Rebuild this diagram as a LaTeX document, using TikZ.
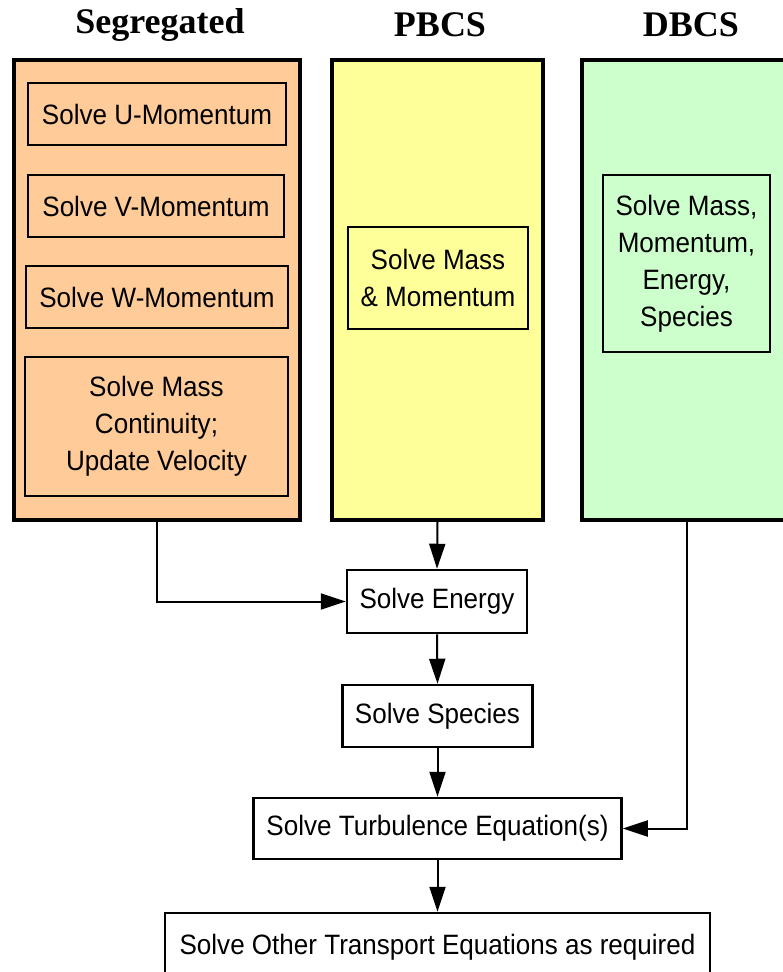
\documentclass[tikz,border=0pt]{standalone}
\usepackage{fontspec}
\setmainfont{Liberation Serif}
\newfontfamily\lab[FakeStretch=0.93]{Liberation Sans}
\usetikzlibrary{arrows.meta}
\definecolor{segfill}{HTML}{FFCC99}
\definecolor{pbfill}{HTML}{FFFF99}
\definecolor{dbfill}{HTML}{CCFFCC}
\tikzset{
  title/.style={font=\fontsize{36}{40}\selectfont\bfseries},
  outer/.style={draw, line width=4pt, inner sep=0pt},
  inbox/.style={draw, line width=2.5pt, inner sep=0pt, align=center,
    font=\lab\fontsize{28}{37}\selectfont},
  flow/.style={inbox, fill=white},
  conn/.style={line width=2pt, -{Triangle[length=25pt,width=16pt]}},
}
\begin{document}
\begin{tikzpicture}[x=1pt,y=-1pt]
\clip (0,0) rectangle (783,972);
\fill[white] (0,0) rectangle (783,972);
% titles
\node[title] (tseg) at (160,25) {Segregated};
\node[title] (tpb) at (440,25) {PBCS};
\node[title] (tdb) at (691,25) {DBCS};
% outer boxes
\node[outer, fill=segfill, minimum width=286pt, minimum height=460pt] (seg) at (157,290) {};
\node[outer, fill=pbfill, minimum width=211pt, minimum height=460pt] (pb) at (437.5,290) {};
\node[outer, fill=dbfill, minimum width=240pt, minimum height=460pt] (db) at (702,290) {};
% segregated inner
\node[inbox, minimum width=258pt, minimum height=62pt] (u) at (157,114) {Solve U-Momentum};
\node[inbox, minimum width=256pt, minimum height=62pt] (v) at (156,206) {Solve V-Momentum};
\node[inbox, minimum width=262pt, minimum height=62pt] (w) at (157,297) {Solve W-Momentum};
\node[inbox, minimum width=263pt, minimum height=139pt] (mass) at (156.5,426.5) {Solve Mass\\Continuity;\\Update Velocity};
% pbcs inner
\node[inbox, minimum width=180pt, minimum height=102pt] (pbin) at (438,278) {Solve Mass\\\& Momentum};
% dbcs inner
\node[inbox, minimum width=167pt, minimum height=177pt] (dbin) at (686.5,263.5) {Solve Mass,\\Momentum,\\Energy,\\Species};
% flow boxes
\node[flow, minimum width=180pt, minimum height=63pt] (energy) at (437,601.5) {Solve Energy};
\node[flow, minimum width=190pt, minimum height=62pt] (species) at (437.5,716) {Solve Species};
\node[flow, minimum width=368pt, minimum height=61pt] (turb) at (437.5,828.5) {Solve Turbulence Equation(s)};
\node[flow, minimum width=545pt, minimum height=62pt, text depth=0pt] (other) at (437.5,944) {Solve Other Transport Equations as required};
% connectors
\draw[conn] (pb.south) -- (energy.north);
\draw[conn] (seg.south) |- (energy.west);
\draw[conn] (energy.south) -- (species.north);
\draw[conn] (species.south) -- (turb.north);
\draw[conn] (turb.south) -- (other.north);
\draw[conn] (dbin |- db.south) |- (turb.east);
\end{tikzpicture}
\end{document}
